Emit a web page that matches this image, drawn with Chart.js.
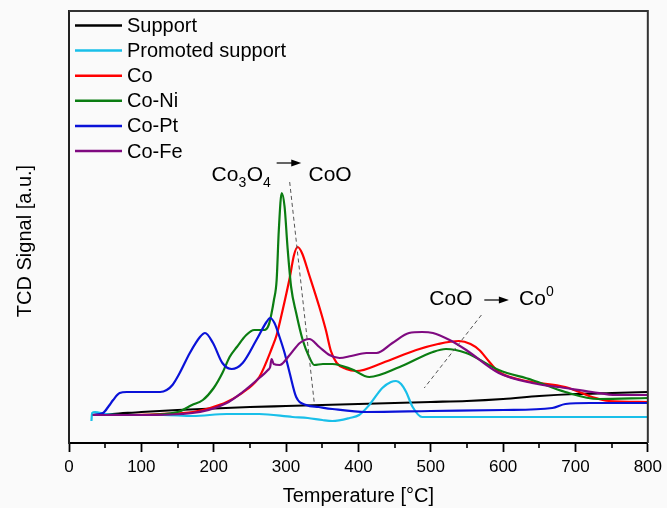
<!DOCTYPE html>
<html>
<head>
<meta charset="utf-8">
<script src="https://cdn.jsdelivr.net/npm/chart.js@4.4.1/dist/chart.umd.min.js"></script>
<style>
  html, body { margin: 0; padding: 0; background: #fafafa; }
  #wrap { width: 667px; height: 508px; }
</style>
</head>
<body>
<div id="wrap"><canvas id="tpr" width="667" height="508"></canvas></div>
<script>
const FONT = '"Liberation Sans", Arial, Helvetica, sans-serif';

// H2-TPR profiles: temperature in °C, TCD signal in arbitrary units
const supportT  = [32, 60, 100, 150, 200, 250, 300, 350, 400, 450, 500, 550, 600, 650, 700, 750, 800];
const supportV  = [28, 29, 31, 33, 34.5, 36, 37, 38, 39, 40, 41, 42, 44, 47, 49, 50, 51];

const promotedT = [31, 32, 36, 50, 80, 130, 171, 218, 263, 309, 330, 350, 364, 388, 401, 415, 433, 445, 452, 459, 466, 475, 488, 502, 550, 650, 800];
const promotedV = [22, 30, 31, 29, 28, 28, 27, 29, 29, 26, 25, 23, 22, 25, 28, 38, 55, 61, 62, 59, 51, 36, 26, 26, 26, 26, 26];

const coT   = [33, 80, 126, 171, 195, 218, 245, 263, 281, 287, 295, 305, 311, 316, 322, 332, 346, 355, 362, 370, 383, 397, 433, 480, 510, 539, 555, 567, 580, 594, 620, 640, 686, 723, 746, 800];
const coV   = [28, 28, 29, 31, 35, 41, 53, 66, 96, 108, 132, 165, 188, 196, 190, 168, 136, 113, 92, 80, 74, 72, 80, 93, 99, 102, 99, 93, 82, 71, 64, 61, 56, 46, 42, 41];

const coNiT = [33, 100, 150, 170, 185, 200, 212, 222, 232, 245, 256, 270, 276, 280, 283, 287, 290, 294, 298, 302, 307, 314, 323, 332, 339, 351, 364, 390, 415, 457, 503, 521, 549, 594, 640, 686, 732, 800];
const coNiV = [28, 28, 31, 38, 43, 55, 70, 86, 96, 108, 113, 113, 118, 130, 142, 163, 213, 250, 236, 196, 156, 130, 103, 86, 78, 79, 79, 74, 66, 76, 91, 94, 90, 73, 63, 51, 44, 45];

const coPtT = [33, 47, 55, 61, 70, 80, 100, 126, 135, 143, 153, 167, 181, 188, 199, 212, 225, 240, 259, 273, 278, 284, 291, 298, 305, 314, 328, 345, 364, 411, 500, 600, 668, 686, 720, 800];
const coPtV = [28, 30, 37, 43, 50, 51, 51, 51, 53, 58, 70, 90, 106, 110, 100, 80, 74, 80, 103, 121, 125, 120, 106, 90, 70, 46, 38, 36, 34, 31, 32, 33, 35, 39, 40, 40];

const coFeT = [33, 100, 171, 218, 240, 263, 275, 278, 280, 283, 291, 305, 319, 332, 346, 360, 374, 390, 411, 425, 447, 470, 488, 503, 526, 549, 594, 640, 686, 723, 756, 800];
const coFeV = [28, 28, 30, 40, 51, 65, 73, 76, 84, 79, 78, 88, 100, 104, 96, 88, 85, 87, 90, 90, 100, 110, 111, 110, 103, 93, 70, 60, 55, 51, 48, 48];

const seriesNames  = ['Support', 'Promoted support', 'Co', 'Co-Ni', 'Co-Pt', 'Co-Fe'];
const seriesColors = ['#000000', '#19bfe9', '#ff0000', '#0b7d12', '#0a12d8', '#7f0a80'];
const seriesT = [supportT, promotedT, coT, coNiT, coPtT, coFeT];
const seriesV = [supportV, promotedV, coV, coNiV, coPtV, coFeV];

// reduction step guides (dashed leader lines), in temperature / signal units
const guideReduction1 = [[305, 261], [339, 40]];
const guideReduction2 = [[570, 128], [491, 55]];

const datasets = seriesNames.map((name, i) => ({
  label: name,
  data: seriesT[i].map((t, k) => ({ x: t, y: seriesV[i][k] })),
  borderColor: seriesColors[i],
  borderWidth: 2.2,
  pointRadius: 0,
  fill: false,
  cubicInterpolationMode: 'monotone',
  order: seriesNames.length - i
}));

const decor = {
  id: 'decor',
  beforeDraw(chart) {
    const ctx = chart.ctx;
    ctx.save();
    ctx.fillStyle = '#fafafa';
    ctx.fillRect(0, 0, chart.width, chart.height);
    ctx.restore();
  },
  afterDraw(chart) {
    const { ctx, chartArea: a, scales: { x, y } } = chart;
    ctx.save();

    // frame top and right
    ctx.strokeStyle = '#333';
    ctx.lineWidth = 2;
    ctx.beginPath();
    ctx.moveTo(a.left, a.top);
    ctx.lineTo(a.right, a.top);
    ctx.lineTo(a.right, a.bottom);
    ctx.stroke();

    // minor ticks every 50 °C
    ctx.strokeStyle = '#000';
    ctx.lineWidth = 1.6;
    for (let t = 50; t < 800; t += 100) {
      const px = Math.round(x.getPixelForValue(t));
      ctx.beginPath();
      ctx.moveTo(px, a.bottom);
      ctx.lineTo(px, a.bottom + 5);
      ctx.stroke();
    }

    // legend
    ctx.font = '20px ' + FONT;
    ctx.textBaseline = 'middle';
    ctx.textAlign = 'left';
    seriesNames.forEach((name, i) => {
      const ry = a.top + 14.5 + i * 25.1;
      ctx.strokeStyle = seriesColors[i];
      ctx.lineWidth = 2.5;
      ctx.beginPath();
      ctx.moveTo(a.left + 6, ry);
      ctx.lineTo(a.left + 53, ry);
      ctx.stroke();
      ctx.fillStyle = '#000';
      ctx.fillText(name, a.left + 58, ry + 1);
    });

    // y axis title
    ctx.save();
    ctx.translate(25, (a.top + a.bottom) / 2 + 14);
    ctx.rotate(-Math.PI / 2);
    ctx.textAlign = 'center';
    ctx.textBaseline = 'middle';
    ctx.fillStyle = '#000';
    ctx.font = '20px ' + FONT;
    ctx.fillText('TCD Signal [a.u.]', 0, 0);
    ctx.restore();

    // dashed guide lines
    ctx.strokeStyle = '#555';
    ctx.lineWidth = 1;
    ctx.setLineDash([4, 3]);
    [guideReduction1, guideReduction2].forEach(g => {
      ctx.beginPath();
      ctx.moveTo(x.getPixelForValue(g[0][0]), y.getPixelForValue(g[0][1]));
      ctx.lineTo(x.getPixelForValue(g[1][0]), y.getPixelForValue(g[1][1]));
      ctx.stroke();
    });
    ctx.setLineDash([]);

    // labels with sub/superscripts
    const big = '21px ' + FONT, small = '14px ' + FONT;
    const runs = (parts, px, py) => {
      let cx = px;
      ctx.textBaseline = 'alphabetic';
      ctx.textAlign = 'left';
      ctx.fillStyle = '#000';
      parts.forEach(([txt, kind]) => {
        ctx.font = kind ? small : big;
        const dy = kind === 'sub' ? 6 : kind === 'sup' ? -9 : 0;
        ctx.fillText(txt, cx, py + dy);
        cx += ctx.measureText(txt).width + (kind ? 0.5 : 0);
      });
    };
    const arrow = (t0, t1, v) => {
      const x0 = x.getPixelForValue(t0), x1 = x.getPixelForValue(t1), yy = y.getPixelForValue(v);
      ctx.strokeStyle = '#000';
      ctx.fillStyle = '#000';
      ctx.lineWidth = 1.2;
      ctx.beginPath();
      ctx.moveTo(x0, yy);
      ctx.lineTo(x1 - 8, yy);
      ctx.stroke();
      ctx.beginPath();
      ctx.moveTo(x1, yy);
      ctx.lineTo(x1 - 10, yy - 3.5);
      ctx.lineTo(x1 - 10, yy + 3.5);
      ctx.closePath();
      ctx.fill();
    };

    runs([['Co'], ['3', 'sub'], ['O'], ['4', 'sub']], x.getPixelForValue(197), y.getPixelForValue(262));
    arrow(287, 321, 280);
    runs([['CoO']], x.getPixelForValue(331), y.getPixelForValue(262));

    runs([['CoO']], x.getPixelForValue(498), y.getPixelForValue(138));
    arrow(574, 608, 143);
    runs([['Co'], ['0', 'sup']], x.getPixelForValue(622), y.getPixelForValue(138));

    ctx.restore();
  }
};

new Chart(document.getElementById('tpr'), {
  type: 'line',
  data: { datasets },
  plugins: [decor],
  options: {
    responsive: false,
    animation: false,
    devicePixelRatio: 1,
    layout: { padding: { left: 0, right: 18, top: 11, bottom: 0 } },
    plugins: { legend: { display: false }, tooltip: { enabled: false } },
    scales: {
      x: {
        type: 'linear',
        min: 0,
        max: 800,
        afterFit: s => { s.height = 65; },
        ticks: { stepSize: 100, color: '#000', font: { family: FONT, size: 17 }, padding: 5, maxRotation: 0 },
        grid: { display: true, drawOnChartArea: false, drawTicks: true, tickLength: 9, tickColor: '#000', tickWidth: 1.8 },
        border: { display: true, color: '#000', width: 2 },
        title: { display: true, text: 'Temperature [°C]', color: '#000', font: { family: FONT, size: 20, lineHeight: 1.1 }, padding: { top: 0, bottom: 1 } }
      },
      y: {
        type: 'linear',
        min: 0,
        max: 432,
        afterFit: s => { s.width = 69; },
        ticks: { display: false },
        grid: { display: false, drawTicks: false },
        border: { display: true, color: '#222', width: 2 }
      }
    }
  }
});
</script>
</body>
</html>
